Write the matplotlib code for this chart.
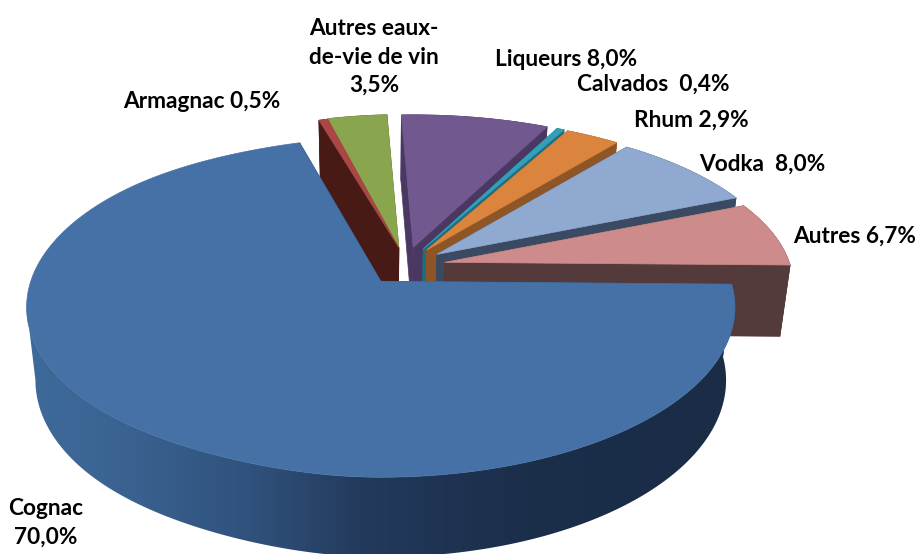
import numpy as np
import matplotlib
matplotlib.use('Agg')
import matplotlib.pyplot as plt
from matplotlib.colors import LinearSegmentedColormap
from matplotlib.patches import Polygon

# Share of each spirit, in pie order (clockwise)
names = ['Cognac', 'Armagnac', 'Autres eaux-de-vie de vin', 'Liqueurs',
         'Calvados', 'Rhum', 'Vodka', 'Autres']
shares = [70.0, 0.5, 3.5, 8.0, 0.4, 2.9, 8.0, 6.7]

top_colors = ['#4571a6', '#aa4643', '#89a54e', '#71588f', '#31a0b8', '#db843d', '#8fa9d1', '#cd8c8b']
wall_colors = ['#2a4468', '#471a16', '#3c4f1f', '#4b3862', '#1f6d80', '#8e5526', '#3a4a63', '#543a3a']

label_texts = ['Cognac\n70,0%', 'Armagnac 0,5%', 'Autres eaux-\nde-vie de vin\n3,5%', 'Liqueurs 8,0%',
               'Calvados  0,4%', 'Rhum 2,9%', 'Vodka  8,0%', 'Autres 6,7%']
label_x = [46, 202, 374, 566, 653, 691, 762, 855]
label_y = [523, 101, 57, 59, 84, 120, 164, 236]

# Pie geometry, all in pixels of the picture
start_angle = -1.0
cx, cy = 405, 266
rx, ry = 350, 166
persp = 0.153
squeeze = 0.13
explode = 0.115
back_sx, back_sy = 0.985, 0.92  # the pulled-out slices sit further from the camera
depth = 72
shrink_x, shrink_y = 0.975, 1.04


def project(t):
    # unit circle on the tilted plane -> screen offsets
    w = 1 + persp * np.sin(t)
    dx = rx * np.cos(t) / w
    dx = np.where(np.cos(t) < 0, dx * (1 - squeeze * np.sin(t) ** 8), dx)
    return dx, -ry * np.sin(t) / w


def lower(x, y):
    # matching point on the underside of the pie
    return 380 + shrink_x * (x - 380), 282 + shrink_y * (y - 282) + depth


fig = plt.figure(figsize=(9.18, 5.54), dpi=100)
ax = fig.add_axes([0, 0, 1, 1])
ax.set_xlim(0, 918)
ax.set_ylim(554, 0)
ax.axis('off')

wall_cmap = LinearSegmentedColormap.from_list(
    'wall', [(0, '#3e6b9c'), (0.15, '#3a6290'), (0.33, '#2f507a'), (0.47, '#233a5c'),
             (0.7, '#1b2e4a'), (1, '#1a2c46')])
gradient = np.linspace(0, 1, 512).reshape(1, -1)

# slice angles, going clockwise from the end of Autres round through Cognac
spans = np.array(shares) / sum(shares) * 360
ends = start_angle - np.cumsum(spans)
starts = ends + spans

# back slices first, Cognac last
draw_order = [2, 1, 3, 4, 5, 6, 7, 0]
for i in draw_order:
    t = np.radians(np.linspace(starts[i], ends[i], 300))
    mid = np.radians((starts[i] + ends[i]) / 2)
    ax0 = cx + rx * explode * np.cos(mid)
    ay0 = cy - ry * explode * np.sin(mid)
    if i == 1:
        ax0 += 5  # Armagnac sits tight against the next slice
    dx, dy = project(t)
    if i != 0:
        dx, dy = dx * back_sx, dy * back_sy
    x, y = ax0 + dx, ay0 + dy
    xl, yl = lower(x, y)
    axl, ayl = lower(ax0, ay0)

    # cut faces
    for k in [0, -1]:
        face = [(ax0, ay0), (x[k], y[k]), (xl[k], yl[k]), (axl, ayl)]
        ax.add_patch(Polygon(face, closed=True, fc=wall_colors[i], ec=wall_colors[i], lw=0.5))

    # outer wall, Cognac carries a left-to-right gradient
    if i == 0:
        # front part only: from the right end round to the leftmost point of each rim
        a = np.argmin(x)
        b = np.argmin(xl)
        body = list(zip(x[:a + 1], y[:a + 1])) + list(zip(xl[:b + 1][::-1], yl[:b + 1][::-1]))
        patch = Polygon(body, closed=True, fc='none', ec='none')
        ax.add_patch(patch)
        im = ax.imshow(gradient, extent=[20, 745, 554, 0], aspect='auto', cmap=wall_cmap,
                       vmin=0, vmax=1, zorder=patch.get_zorder())
        im.set_clip_path(patch)
        ax.set_xlim(0, 918)
        ax.set_ylim(554, 0)
    else:
        wall = list(zip(x, y)) + list(zip(xl[::-1], yl[::-1]))
        ax.add_patch(Polygon(wall, closed=True, fc=wall_colors[i], ec=wall_colors[i], lw=0.5))

    # top surface
    pts = [(ax0, ay0)] + list(zip(x, y))
    ax.add_patch(Polygon(pts, closed=True, fc=top_colors[i], ec=top_colors[i], lw=0.5, zorder=2))

for lab, lx, ly in zip(label_texts, label_x, label_y):
    ax.text(lx, ly, lab, ha='center', va='center', family='Lato', fontweight='bold',
            fontsize=16.3, color='black', linespacing=1.45, zorder=5)

fig.savefig('out.png', dpi=100)
